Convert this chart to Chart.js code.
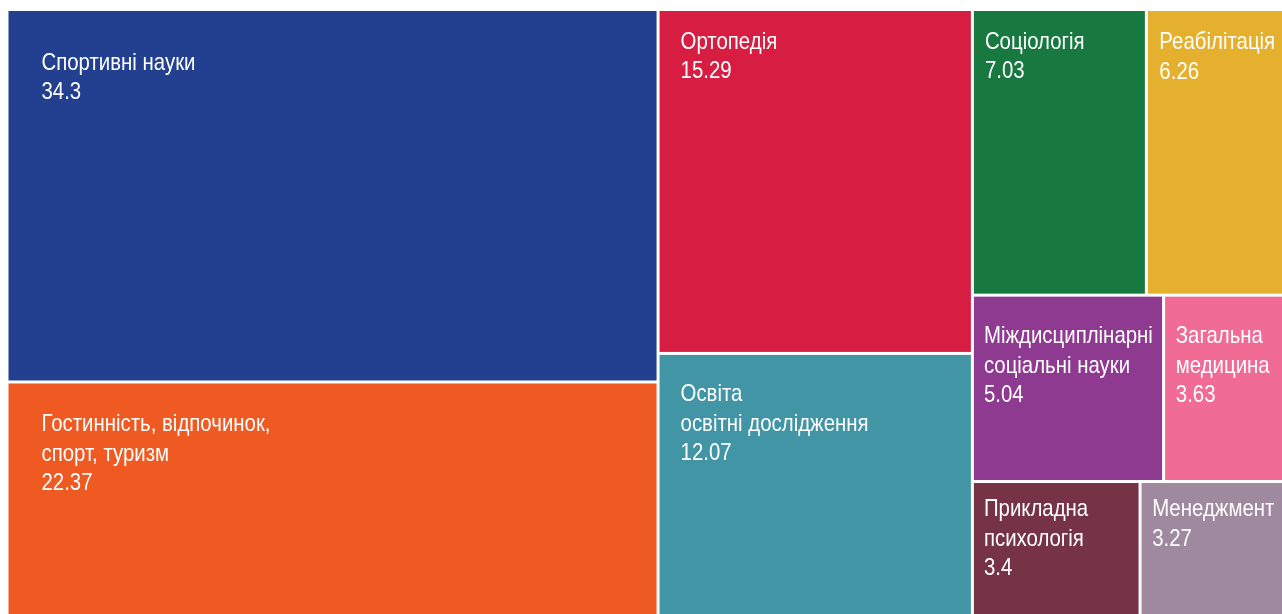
<!doctype html>
<html lang="uk">
<head>
    <meta charset="UTF-8" />
    <title>Treemap</title>
    <style>
        html, body { margin: 0; padding: 0; background: #ffffff; overflow: hidden; }
        #wrap { width: 1282px; height: 614px; overflow: hidden; }
    </style>
</head>
<body>
<div id="wrap">
    <canvas id="myChart" width="1310" height="632"></canvas>
</div>
<script src="https://cdn.jsdelivr.net/npm/chart.js"></script>

<script>
    // categories (line breaks as in the picture) and values
    const categories = [
        ['Спортивні науки'],
        ['Гостинність, відпочинок,', 'спорт, туризм'],
        ['Ортопедія'],
        ['Освіта', 'освітні дослідження'],
        ['Соціологія'],
        ['Реабілітація'],
        ['Міждисциплінарні', 'соціальні науки'],
        ['Загальна', 'медицина'],
        ['Прикладна', 'психологія'],
        ['Менеджмент']
    ];
    const values = [34.3, 22.37, 15.29, 12.07, 7.03, 6.26, 5.04, 3.63, 3.4, 3.27];

    // how the tiles are grouped: columns -> rows -> tiles (indices)
    const columns = [
        [[0], [1]],
        [[2], [3]],
        [[4, 5], [6, 7], [8, 9]]
    ];

    const colors = ['#22408f', '#ef5a23', '#d81d43', '#4195a5', '#177840',
                    '#e4b02d', '#8e3a90', '#f06c95', '#763345', '#9e899e'];
    // label placement inside each tile (px): left padding, first baseline
    const padX = [33, 33, 21, 21, 11, 11.5, 10, 10.7, 10, 10.6];
    const padTop = [58.5, 47.7, 37.5, 46.5, 37.5, 38, 46.7, 46.7, 33.3, 33.3];
    const narrow = 0.85; // squeeze to mimic a condensed face

    function sum(idx) {
        let s = 0;
        idx.forEach(function (i) { s += values[i]; });
        return s;
    }

    // tile rectangles in scale units (0..1 both ways)
    const total = sum(values.map(function (v, i) { return i; }));
    const tiles = [];
    let cx = 0;
    columns.forEach(function (col) {
        const colSum = sum([].concat.apply([], col));
        const w = colSum / total;
        let cy = 0;
        col.forEach(function (row) {
            const rowSum = sum(row);
            const h = rowSum / colSum;
            let rx = cx;
            row.forEach(function (i) {
                const tw = w * values[i] / rowSum;
                tiles[i] = {x: rx + tw / 2, y: cy + h / 2, x0: rx, x1: rx + tw, y0: cy, y1: cy + h, i: i};
                rx += tw;
            });
            cy += h;
        });
        cx += w;
    });

    const treemapPlugin = {
        id: 'treemapTiles',
        beforeDatasetsDraw(chart) {
            const ctx = chart.ctx;
            const xs = chart.scales.x, ys = chart.scales.y;
            const gap = 1.5;
            ctx.save();
            chart.data.datasets[0].data.forEach(function (t) {
                const left = xs.getPixelForValue(t.x0) + gap;
                const right = xs.getPixelForValue(t.x1) - gap;
                const top = ys.getPixelForValue(t.y0) + gap;
                const bottom = ys.getPixelForValue(t.y1) - gap;
                ctx.fillStyle = colors[t.i];
                ctx.fillRect(left, top, right - left, bottom - top);

                const lines = categories[t.i].concat([String(values[t.i])]);
                ctx.save();
                ctx.fillStyle = '#ffffff';
                ctx.font = '24px "Liberation Sans", Arial, sans-serif';
                ctx.textBaseline = 'alphabetic';
                ctx.textAlign = 'left';
                ctx.translate(left + padX[t.i], top + padTop[t.i]);
                ctx.scale(narrow, 1);
                lines.forEach(function (line, k) {
                    ctx.fillText(line, 0, k * 29.5);
                });
                ctx.restore();
            });
            ctx.restore();
        }
    };

    const ctx = document.getElementById('myChart');
    const chart = new Chart(ctx, {
        type: 'scatter',
        data: {
            datasets: [{
                label: 'tiles',
                data: tiles,
                pointRadius: 0,
                pointHoverRadius: 0
            }]
        },
        options: {
            responsive: false,
            animation: false,
            layout: {
                padding: {left: 7, top: 9.5, right: 8.7, bottom: 7.1}
            },
            plugins: {
                legend: {display: false},
                tooltip: {enabled: false}
            },
            scales: {
                x: {type: 'linear', min: 0, max: 1, display: false},
                y: {type: 'linear', min: 0, max: 1, reverse: true, display: false}
            }
        },
        plugins: [treemapPlugin]
    });
</script>
</body>
</html>
